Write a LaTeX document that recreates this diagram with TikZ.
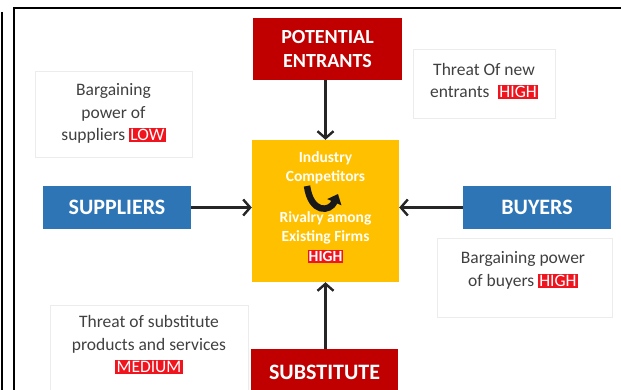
\documentclass[tikz,border=0pt]{standalone}
\usepackage{fontspec}
\setmainfont{Carlito}
\usetikzlibrary{arrows.meta}
\definecolor{forcered}{HTML}{C00000}
\definecolor{forceblue}{HTML}{2E75B6}
\definecolor{coreyellow}{HTML}{FFC000}
\definecolor{tagred}{HTML}{F0141E}
\definecolor{bodytext}{HTML}{404040}
\newcommand\ratingtag[1]{{\setlength\fboxsep{1.2pt}\colorbox{tagred}{\textcolor{white}{#1}}}}
\tikzset{
  force/.style={rectangle, inner sep=0pt, text=white, font=\bfseries\fontsize{22}{26}\selectfont, align=center},
  note/.style={rectangle, draw=gray!15, line width=0.6pt, inner sep=0pt},
  notetext/.style={text=bodytext, font=\fontsize{17.5}{22.5}\selectfont, align=center, inner sep=0pt},
  push/.style={line width=2.4pt, color=black!85, -{Straight Barb[length=7pt,width=16pt,line width=2.4pt]}},
  coretext/.style={text=white!96!yellow, font=\bfseries\fontsize{15.5}{19.5}\selectfont, align=center, inner sep=0pt}
}
\begin{document}
\begin{tikzpicture}[x=1pt,y=-1pt]
\useasboundingbox (0,0) rectangle (621,390);
\clip (0,0) rectangle (621,390);
% page frame
\draw[line width=2pt] (1.5,12) -- (1.5,395);
\draw[line width=2pt] (14,395) -- (14,8) -- (630,8);

% the five forces
\node[force, fill=forcered, minimum width=149pt, minimum height=62pt, font=\bfseries\fontsize{20}{24}\selectfont] (pe) at (327.5,49) {POTENTIAL\\ENTRANTS};
\node[rectangle, fill=coreyellow, minimum width=147pt, minimum height=142pt, inner sep=0pt] (core) at (325.5,211) {};
\node[force, fill=forceblue, minimum width=148pt, minimum height=43pt] (sup) at (117,207.5) {SUPPLIERS};
\node[force, fill=forceblue, minimum width=148pt, minimum height=43pt] (buy) at (537,207.5) {BUYERS};
\node[force, fill=forcered, minimum width=147pt, minimum height=52pt, anchor=north] (sub) at (324.5,349) {\raisebox{2pt}{SUBSTITUTE}\vphantom{g}};

% text inside the rivalry box
\node[coretext] (ind) at (325.5,168) {Industry\\Competitors};
\node[coretext] (riv) at (325.5,237) {Rivalry among\\Existing Firms\\\ratingtag{HIGH}};
\draw[line width=6.5pt, color=black!90, -{Triangle[length=9pt,width=15pt]}] (307,186) .. controls (311,214) and (330,212) .. (338,194);

% connectors
\draw[push] (core.north |- pe.south) -- (core.north);
\draw[push] (sup.east) -- (core.west |- sup.east);
\draw[push] (buy.west) -- (core.east |- buy.west);
\draw[push] (core.south |- sub.north) -- (core.south);

% rating notes
\node[note, minimum width=157pt, minimum height=86pt] (nsup) at (113.5,114) {};
\node[notetext] (tsup) at (113.5,113.5) {Bargaining\\power of\\suppliers \ratingtag{LOW}};
\node[note, minimum width=142pt, minimum height=69pt] (nnew) at (484,83.5) {};
\node[notetext] (tnew) at (484,81) {Threat Of new\\entrants\enspace\ratingtag{HIGH}};
\node[note, minimum width=175pt, minimum height=79pt] (nbuy) at (524.5,277.5) {};
\node[notetext] (tbuy) at (523,270.5) {Bargaining power\\of buyers \ratingtag{HIGH}};
\node[note, minimum width=198pt, minimum height=100pt, anchor=north] (nsub) at (149,305) {};
\node[notetext] (tsub) at (149,345) {Threat of substitute\\products and services\\\ratingtag{MEDIUM}};
\end{tikzpicture}
\end{document}
